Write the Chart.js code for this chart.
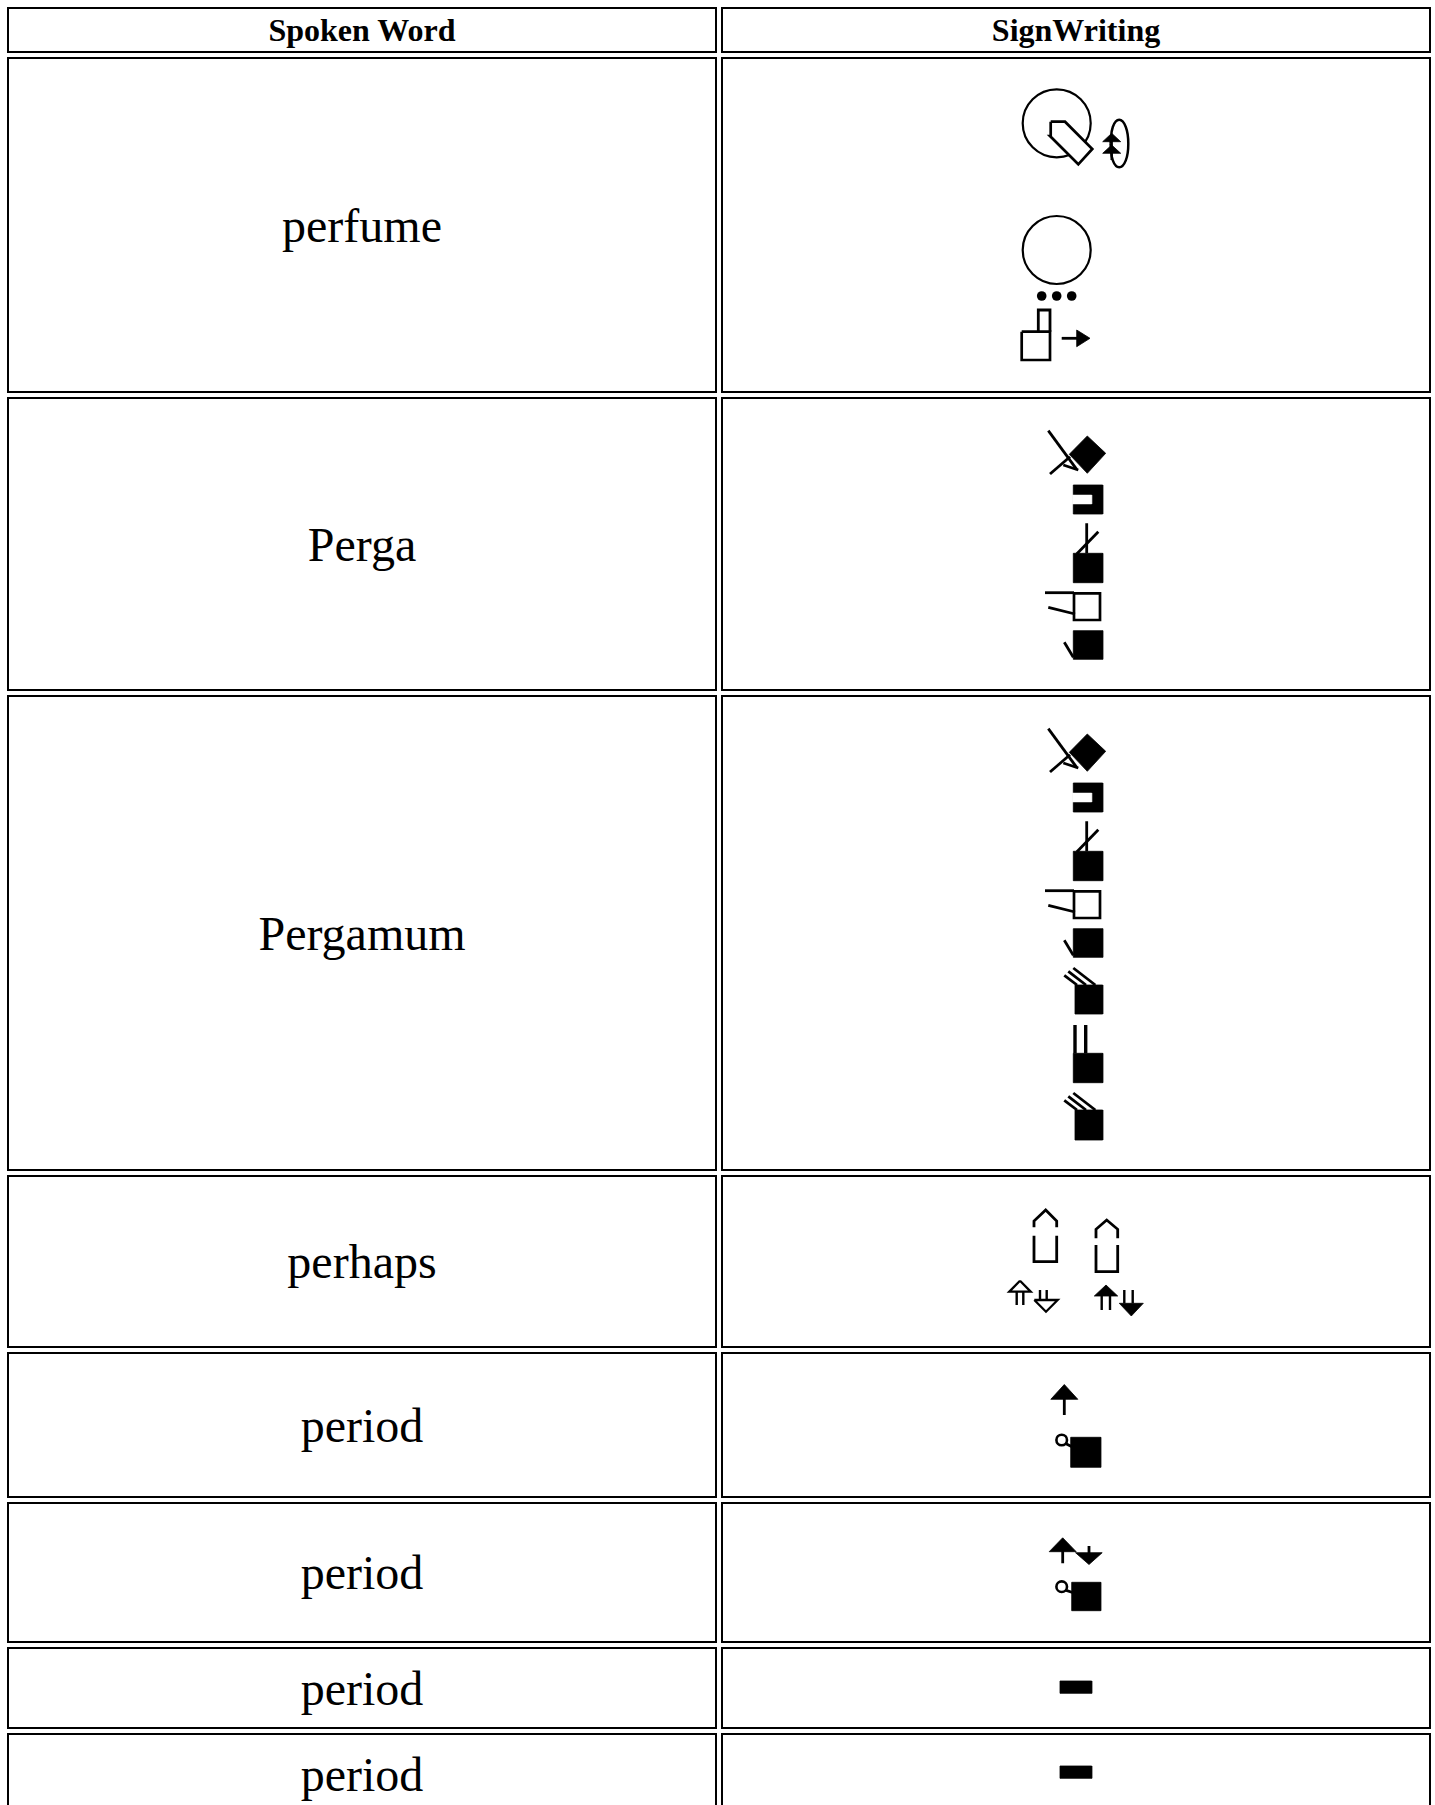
<!DOCTYPE html>
<html>
<head>
<meta charset="utf-8">
<script src="https://cdn.jsdelivr.net/npm/chart.js@4.4.1/dist/chart.umd.min.js"></script>
<style>
html,body{margin:0;padding:0;overflow:hidden;background:#fff;width:1435px;height:1805px;}
#t{position:absolute;left:3px;top:3px;width:1432px;border-collapse:separate;border-spacing:4px;table-layout:fixed;}
#t td,#t th{border:2px solid #000;padding:0;text-align:center;vertical-align:middle;
  font-family:"Liberation Serif","Times New Roman",serif;color:#000;box-sizing:border-box;overflow:hidden;}
#t th{font-weight:bold;font-size:32px;}
#t td{font-size:48px;}
#glyphs{position:absolute;left:0;top:0;width:1435px;height:1805px;pointer-events:none;z-index:2;}
</style>
</head>
<body>
<table id="t">
  <thead><tr id="headRow"></tr></thead>
  <tbody id="rows"></tbody>
</table>
<canvas id="glyphs" width="1435" height="1805"></canvas>
<script>
// ---------- data ----------
const headers = ['Spoken Word', 'SignWriting'];
const spokenWords = ['perfume', 'Perga', 'Pergamum', 'perhaps', 'period', 'period', 'period', 'period'];

// SignWriting symbols of each sign, in the sign cell's own units (origin = cell top-left)
const perfumeSign = [
  ['ring',   [335.7, 66.3], 34],
  ['hollow', [[329.7,64.7],[344,64.7],[371.3,92],[357.3,107.3],[329,79]]],
  ['loop',   [[389.5,86.7],[391.8,70],[398.2,62.8],[404.8,70],[407.3,86.7],[404.8,103.4],[398.2,110.3],[391.8,103.4],[389.5,86.7]]],
  ['solid',  [[390.7,76.3],[399.7,84.7],[381.7,84.7]]],
  ['solid',  [[390.7,88],[399.7,96.3],[381.7,96.3]]],
  ['thin',   [[390.7,84],[390.7,103]]],
  ['ring',   [335.7, 193], 34],
  ['dot',    [320.7, 239], 4.8],
  ['dot',    [335.7, 239], 4.8],
  ['dot',    [350.7, 239], 4.8],
  ['hollow', [[300.7,274.7],[329,274.7],[329,303],[300.7,303]]],
  ['open',   [[317.3,274.7],[317.3,253],[329,253],[329,274.7]]],
  ['open',   [[340.7,281.3],[357,281.3]]],
  ['solid',  [[355.7,273],[369,281.3],[355.7,289.7]]]
];
const pergaSign = [
  ['open',   [[327.3,33.7],[355.7,72.3]]],
  ['open',   [[329,77],[349,59.7]]],
  ['open',   [[342.3,68],[357.3,73]]],
  ['solid',  [[366.3,39],[384.7,56.3],[366.3,76.3],[348.3,57.3]]],
  ['solid',  [[352.3,88],[381.7,88],[381.7,117],[352.3,117]]],
  ['hole',   [[351.3,98],[370.7,98],[370.7,107],[351.3,107]]],
  ['open',   [[365.7,126.3],[365.7,156.3]]],
  ['open',   [[355.7,157],[377.3,134.7]]],
  ['solid',  [[352.3,156.3],[381.7,156.3],[381.7,185.7],[352.3,185.7]]],
  ['hollow', [[353,196.3],[379,196.3],[379,223],[353,223]]],
  ['open',   [[324,195.7],[353,195.7]]],
  ['open',   [[327.3,210.3],[354,217]]],
  ['open',   [[343.3,245.3],[352.3,260.3]]],
  ['solid',  [[352.3,233.7],[381.7,233.7],[381.7,262.3],[352.3,262.3]]]
];
const pergamumSign = pergaSign.concat([
  ['open',   [[343.3,280.3],[356,290]]],
  ['open',   [[347.3,276.3],[365,290]]],
  ['open',   [[352.3,273],[374.3,290]]],
  ['solid',  [[354,290],[381.7,290],[381.7,319],[354,319]]],
  ['bar',    [[354,330],[354,358.3]]],
  ['bar',    [[364.7,330],[364.7,358.3]]],
  ['solid',  [[352.3,358.3],[381.7,358.3],[381.7,387.7],[352.3,387.7]]],
  ['open',   [[343.3,405.3],[356,415]]],
  ['open',   [[347.3,401.3],[365,415]]],
  ['open',   [[352.3,398],[374.3,415]]],
  ['solid',  [[354,415],[381.7,415],[381.7,445],[354,445]]]
]);
const perhapsSign = [
  ['open',   [[313,52.3],[313,46],[324.7,35],[335.7,46],[335.7,52.3]]],
  ['open',   [[313,60.7],[313,86.7],[335.7,86.7],[335.7,60.7]]],
  ['open',   [[375,63.3],[375,54.3],[385.7,45],[396.7,54.3],[396.7,63.3]]],
  ['open',   [[375,70],[375,96.7],[396.7,96.7],[396.7,70]]],
  ['hollowThin', [[299,105.7],[309.7,116.7],[288.3,116.7]]],
  ['thin',   [[295.7,116.7],[295.7,130]]],
  ['thin',   [[302.3,116.7],[302.3,130]]],
  ['thin',   [[319,115],[319,125]]],
  ['thin',   [[325.7,115],[325.7,125]]],
  ['hollowThin', [[313.3,125],[336.7,125],[325,136.7]]],
  ['solid',  [[385,110],[396.7,121],[373.3,121]]],
  ['thin',   [[380.7,121],[380.7,135]]],
  ['thin',   [[389,121],[389,135]]],
  ['thin',   [[403.3,115],[403.3,128.3]]],
  ['thin',   [[411.7,115],[411.7,128.3]]],
  ['solid',  [[398.3,128.3],[422.3,128.3],[410.3,141]]]
];
const periodSignA = [
  ['solid',  [[343.3,32.5],[356.8,47.3],[329.8,47.3]]],
  ['open',   [[343.3,46],[343.3,63]]],
  ['open',   [[344.5,91.5],[350.5,94.5]]],
  ['ringSmall', [340.7, 88], 5.3],
  ['solid',  [[349.7,85.3],[379.7,85.3],[379.7,115.3],[349.7,115.3]]]
];
const periodSignB = [
  ['solid',  [[341.7,35.8],[355.2,49.7],[328.2,49.7]]],
  ['open',   [[341.7,48],[341.7,61.3]]],
  ['open',   [[368,44],[368,52]]],
  ['solid',  [[354.5,50.7],[381.2,50.7],[368,62.5]]],
  ['open',   [[344.5,88.2],[351.5,90.5]]],
  ['ringSmall', [340.7, 84.7], 5.3],
  ['solid',  [[350.7,80.3],[379.7,80.3],[379.7,108.7],[350.7,108.7]]]
];
const periodSignC = [
  ['solid',  [[339,34],[370.7,34],[370.7,46.3],[339,46.3]]]
];
const periodSignD = [
  ['solid',  [[339,33],[370.7,33],[370.7,45.3],[339,45.3]]]
];
const signs = [perfumeSign, pergaSign, pergamumSign, perhapsSign, periodSignA, periodSignB, periodSignC, periodSignD];

// ---------- layout & look ----------
const headHeight = 46;
const rowHeights = [336, 294, 476, 173, 146, 141, 82, 82];
const looks = {
  ring: 2.2, ringSmall: 2.6, hollow: 2.7, hollowThin: 2.3, open: 2.8, thin: 2.4, bar: 3.4, loop: 2.5
};

// ---------- build table ----------
const headRow = document.getElementById('headRow');
headRow.style.height = headHeight + 'px';
headers.forEach(h => { const th = document.createElement('th'); th.textContent = h; headRow.appendChild(th); });
const tbody = document.getElementById('rows');
spokenWords.forEach((w, i) => {
  const tr = document.createElement('tr');
  tr.style.height = rowHeights[i] + 'px';
  const a = document.createElement('td'); a.textContent = w;
  const b = document.createElement('td');
  tr.appendChild(a); tr.appendChild(b); tbody.appendChild(tr);
});

// ---------- glyph datasets ----------
const signCells = Array.from(tbody.querySelectorAll('tr')).map(tr => tr.children[1]);
const datasets = [];
function place(list, ox, oy, close) {
  const out = list.map(p => ({x: ox + p[0], y: oy + p[1]}));
  if (close) out.push({x: out[0].x, y: out[0].y});
  return out;
}
signs.forEach((sign, i) => {
  const box = signCells[i].getBoundingClientRect();
  const ox = box.left, oy = box.top;
  sign.forEach(sym => {
    const kind = sym[0];
    const base = {pointRadius: 0, pointHoverRadius: 0, tension: 0, borderJoinStyle: 'miter', borderCapStyle: 'butt', fill: false};
    if (kind === 'ring' || kind === 'ringSmall' || kind === 'dot') {
      const isDot = kind === 'dot';
      datasets.push({
        data: place([sym[1]], ox, oy, false), showLine: false, pointStyle: 'circle',
        pointRadius: sym[2], pointHoverRadius: sym[2],
        pointBackgroundColor: isDot ? '#000' : '#fff', pointBorderColor: '#000',
        pointBorderWidth: isDot ? 0 : looks[kind], fill: false
      });
    } else if (kind === 'solid') {
      datasets.push(Object.assign(base, {data: place(sym[1], ox, oy, true), borderColor: '#000', borderWidth: 0.8, backgroundColor: '#000', fill: 'shape'}));
    } else if (kind === 'hole') {
      datasets.push(Object.assign(base, {data: place(sym[1], ox, oy, true), borderColor: '#fff', borderWidth: 0.5, backgroundColor: '#fff', fill: 'shape'}));
    } else if (kind === 'hollow' || kind === 'hollowThin') {
      datasets.push(Object.assign(base, {data: place(sym[1], ox, oy, true), borderColor: '#000', borderWidth: looks[kind], backgroundColor: '#fff', fill: 'shape'}));
    } else if (kind === 'loop') {
      datasets.push(Object.assign(base, {data: place(sym[1], ox, oy, false), borderColor: '#000', borderWidth: looks.loop, tension: 0.4}));
    } else {
      datasets.push(Object.assign(base, {data: place(sym[1], ox, oy, false), borderColor: '#000', borderWidth: looks[kind]}));
    }
  });
});
const n = datasets.length;
datasets.forEach((d, i) => { d.order = n - i; });

new Chart(document.getElementById('glyphs'), {
  type: 'line',
  data: {datasets},
  options: {
    responsive: false, animation: false, devicePixelRatio: 1, events: [],
    layout: {padding: 0, autoPadding: false},
    scales: {
      x: {type: 'linear', min: 0, max: 1435, display: false},
      y: {type: 'linear', min: 0, max: 1805, reverse: true, display: false}
    },
    plugins: {legend: {display: false}, tooltip: {enabled: false}}
  }
});
</script>
</body>
</html>
